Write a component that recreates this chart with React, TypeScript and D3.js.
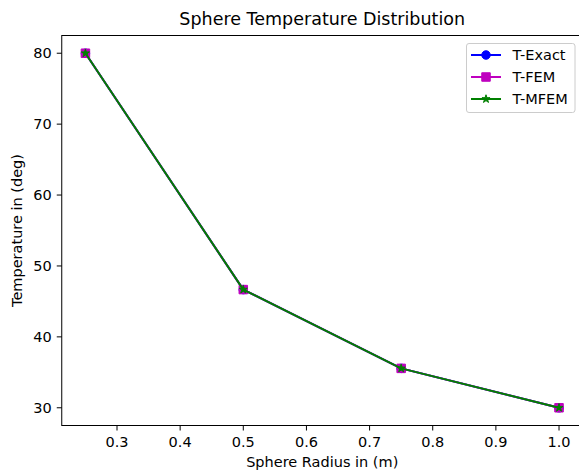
import React from "react";
import * as d3 from "d3";

const radius = [0.25, 0.5, 0.75, 1.0];
const tExact = [80.0, 46.667, 35.556, 30.0];
const tFEM = [80.0, 46.667, 35.556, 30.0];
const tMFEM = [80.0, 46.667, 35.556, 30.0];
const xTicks = [0.3, 0.4, 0.5, 0.6, 0.7, 0.8, 0.9, 1.0];
const yTicks = [30, 40, 50, 60, 70, 80];
const seriesNames = ["T-Exact", "T-FEM", "T-MFEM"];
const seriesColors = ["#0000ff", "#bf00bf", "#008000"];
const seriesMarkers = ["circle", "square", "star"];

const W = 579;
const H = 472;
const FONT = "DejaVu Sans, sans-serif";

function markerPath(kind: string, size: number): string {
  const r = size / 2;
  if (kind === "square") {
    return `M${-r},${-r}H${r}V${r}H${-r}Z`;
  }
  if (kind === "circle") {
    return `M${r},0A${r},${r} 0 1,1 ${-r},0A${r},${r} 0 1,1 ${r},0Z`;
  }
  const inner = r * 0.381966;
  const pts: string[] = [];
  for (let i = 0; i < 10; i++) {
    const a = (Math.PI / 5) * i - Math.PI / 2;
    const rr = i % 2 === 0 ? r : inner;
    pts.push(`${(rr * Math.cos(a)).toFixed(3)},${(rr * Math.sin(a)).toFixed(3)}`);
  }
  return "M" + pts.join("L") + "Z";
}

export default function App() {
  const left = 61.75;
  const top = 35.5;
  const bottom = 425.5;
  const x = d3.scaleLinear().domain([0.2125, 1.0375]).range([left, 582.7]);
  const y = d3.scaleLinear().domain([27.5, 82.5]).range([bottom, top]);
  const right = x(1.0375);

  const data = [tExact, tFEM, tMFEM];
  const line = d3
    .line<number>()
    .x((_, i) => x(radius[i]))
    .y((d) => y(d));

  const mSize = 8.5;
  const tickLen = 5;
  const fs = 14.5;

  const legX = 466.5;
  const legY = 43.5;
  const legW = 108.5;
  const legH = 69;
  const rowY = [55, 77, 99];

  return (
    <svg
      width={W}
      height={H}
      style={{ position: "absolute", left: 0, top: 0, background: "#fff" }}
      fontFamily={FONT}
    >
      <rect x={0} y={0} width={W} height={H} fill="#fff" />
      {data.map((vals, si) => (
        <g key={si}>
          <path
            d={line(vals) || ""}
            fill="none"
            stroke={seriesColors[si]}
            strokeWidth={2}
            strokeLinejoin="round"
          />
          {vals.map((v, i) => (
            <path
              key={i}
              transform={`translate(${x(radius[i])},${y(v)})`}
              d={markerPath(seriesMarkers[si], mSize)}
              fill={seriesColors[si]}
              stroke={seriesColors[si]}
              strokeWidth={1}
            />
          ))}
        </g>
      ))}
      <rect
        x={left}
        y={top}
        width={right - left}
        height={bottom - top}
        fill="none"
        stroke="#000"
        strokeWidth={1}
      />
      {xTicks.map((t) => (
        <g key={t} transform={`translate(${x(t)},${bottom})`}>
          <line y1={0} y2={tickLen} stroke="#000" strokeWidth={1} />
          <text y={21.5} textAnchor="middle" fontSize={fs} fill="#000">
            {t.toFixed(1)}
          </text>
        </g>
      ))}
      {yTicks.map((t) => (
        <g key={t} transform={`translate(${left},${y(t)})`}>
          <line x1={0} x2={-tickLen} stroke="#000" strokeWidth={1} />
          <text x={-10} dy="0.36em" textAnchor="end" fontSize={fs} fill="#000">
            {t}
          </text>
        </g>
      ))}
      <text x={(left + right) / 2} y={467} textAnchor="middle" fontSize={fs} fill="#000">
        Sphere Radius in (m)
      </text>
      <text
        transform={`translate(22,${(top + bottom) / 2}) rotate(-90)`}
        textAnchor="middle"
        fontSize={fs}
        fill="#000"
      >
        Temperature in (deg)
      </text>
      <text x={(left + right) / 2} y={25} textAnchor="middle" fontSize={17.5} fill="#000">
        Sphere Temperature Distribution
      </text>
      <rect
        x={legX}
        y={legY}
        width={legW}
        height={legH}
        rx={2.5}
        fill="#fff"
        fillOpacity={0.8}
        stroke="#cccccc"
        strokeWidth={1}
      />
      {seriesNames.map((name, si) => (
        <g key={name} transform={`translate(0,${rowY[si]})`}>
          <line x1={471} x2={501} y1={0} y2={0} stroke={seriesColors[si]} strokeWidth={2} />
          <path
            transform={`translate(486,0)`}
            d={markerPath(seriesMarkers[si], mSize)}
            fill={seriesColors[si]}
            stroke={seriesColors[si]}
            strokeWidth={1}
          />
          <text x={512.5} dy="0.36em" fontSize={fs} fill="#000">
            {name}
          </text>
        </g>
      ))}
    </svg>
  );
}
